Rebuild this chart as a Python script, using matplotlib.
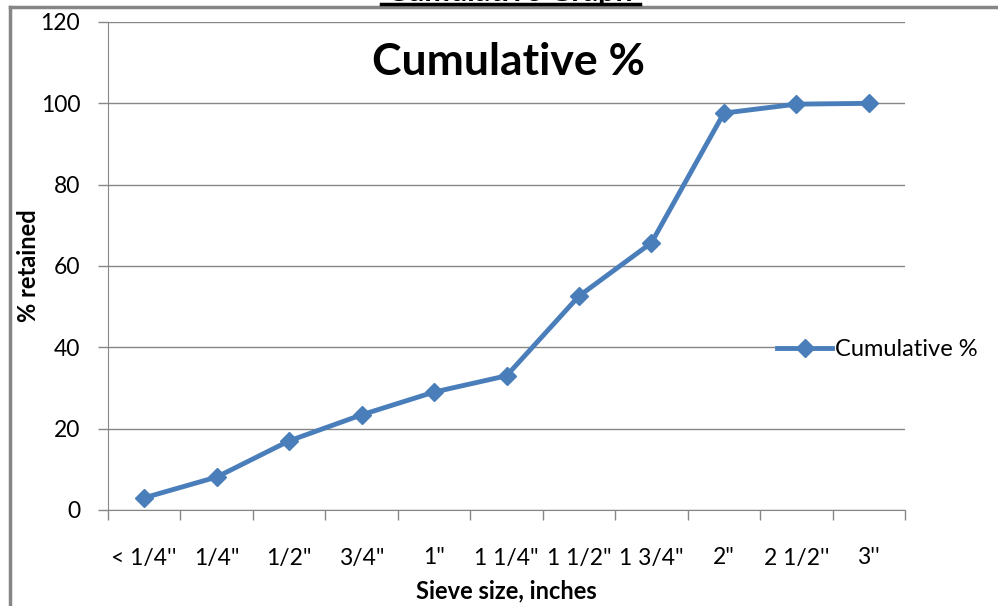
import matplotlib.pyplot as plt
from matplotlib.lines import Line2D

# sieve sizes and cumulative % retained
sieve_sizes = ["< 1/4''", '1/4"', '1/2"', '3/4"', '1"', '1 1/4"', '1 1/2"',
               '1 3/4"', '2"', "2 1/2''", "3''"]
cumulative = [3.0, 8.1, 17.0, 23.4, 29.0, 33.0, 52.6, 65.7, 97.6, 99.8, 100.0]
y_ticks = [0, 20, 40, 60, 80, 100, 120]

blue = '#4A7EBB'
grey = '#868686'
plt.rcParams['font.family'] = ['Lato', 'DejaVu Sans']

fig = plt.figure(figsize=(9.98, 6.06), dpi=100)
ax = fig.add_axes([108 / 998, 1 - 510 / 606, 797 / 998, 488 / 606])

x = list(range(len(sieve_sizes)))
ax.plot(x, cumulative, color=blue, lw=3.5, marker='D', ms=9,
        markeredgecolor=blue, label='Cumulative %', zorder=3)

ax.set_xlim(-0.5, len(sieve_sizes) - 0.5)
ax.set_ylim(0, 120)
ax.set_yticks(y_ticks)
ax.set_xticks(x)
ax.set_xticklabels(sieve_sizes)
ax.set_xticks([i - 0.5 for i in range(len(sieve_sizes) + 1)], minor=True)
ax.tick_params(axis='x', which='major', length=0, pad=27, labelsize=16.5)
ax.tick_params(axis='x', which='minor', length=7, color=grey, width=1)
ax.tick_params(axis='y', length=7, color=grey, width=1, pad=13, labelsize=16.5)
ax.grid(axis='y', color=grey, lw=1)
ax.set_axisbelow(True)
for side in ['top', 'right']:
    ax.spines[side].set_visible(False)
for side in ['left', 'bottom']:
    ax.spines[side].set_color(grey)

ax.set_xlabel('Sieve size, inches', fontsize=17, fontweight='bold', labelpad=8)
ax.set_ylabel('% retained', fontsize=17, fontweight='bold')
ax.yaxis.set_label_coords(-0.085, 0.5)
ax.text(0.503, 0.918, 'Cumulative %', transform=ax.transAxes, ha='center',
        va='center', fontsize=32, fontweight='bold')

handle = Line2D([], [], color=blue, lw=3.5, marker='D', ms=9)
leg = ax.legend([handle], ['Cumulative %'], loc='center left',
                bbox_to_anchor=(667 / 797, 160 / 488), frameon=True,
                fancybox=False, edgecolor='none', facecolor='white',
                framealpha=1, fontsize=17, handlelength=2.3,
                handletextpad=0.15, borderpad=0.1, borderaxespad=0)
leg.set_clip_on(False)

# outer chart frame and the cut-off page heading above it
fig.add_artist(Line2D([10 / 998, 10 / 998], [0, 1 - 7 / 606], color=grey, lw=2.5))
fig.add_artist(Line2D([10 / 998, 1], [1 - 7 / 606, 1 - 7 / 606], color=grey, lw=2.5))
fig.text(510 / 998, 1 - 1 / 606, 'Cumulative Graph', ha='center', va='baseline',
         fontsize=22, fontweight='bold')
fig.add_artist(Line2D([381 / 998, 640 / 998], [1 - 4 / 606, 1 - 4 / 606],
                      color='black', lw=2.5))

fig.savefig('out.png', dpi=100)
